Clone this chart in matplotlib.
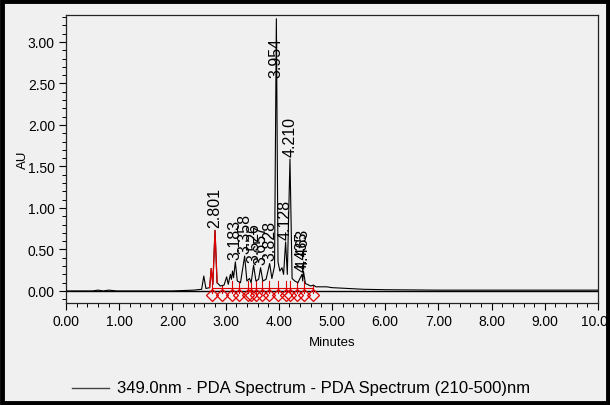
import matplotlib
matplotlib.use("Agg")
import matplotlib.pyplot as plt
from matplotlib.ticker import MultipleLocator, FormatStrFormatter
from matplotlib.lines import Line2D
from matplotlib.patches import Rectangle
import numpy as np

plt.rcParams['font.family'] = ['Liberation Sans', 'DejaVu Sans']

# traced chromatogram (minutes, AU)
times = [0.0, 0.5, 0.6, 0.7, 0.8, 0.95, 1.5, 2.0, 2.4, 2.55, 2.59, 2.63, 2.70,
         2.73, 2.76, 2.801, 2.84, 2.90, 2.97, 3.02, 3.05, 3.09, 3.11, 3.13, 3.15,
         3.183, 3.22, 3.28, 3.358, 3.40, 3.45, 3.48, 3.526, 3.57, 3.62, 3.657,
         3.70, 3.76, 3.828, 3.87, 3.92, 3.954, 3.985, 4.02, 4.06, 4.09, 4.128,
         4.16, 4.21, 4.25, 4.30, 4.36, 4.435, 4.45, 4.463, 4.50, 4.6, 4.65, 4.7,
         4.9, 5.0, 5.3, 5.6, 6.0, 7.0, 8.0, 9.0, 10.0]
au = [0.0, 0.0, 0.01, 0.0, 0.01, 0.0, 0.0, 0.0, 0.01, 0.02, 0.18, 0.03, 0.04,
      0.27, 0.08, 0.73, 0.10, 0.06, 0.07, 0.17, 0.08, 0.20, 0.14, 0.24, 0.16,
      0.35, 0.12, 0.10, 0.42, 0.12, 0.15, 0.10, 0.31, 0.12, 0.14, 0.28,
      0.12, 0.14, 0.33, 0.15, 0.30, 3.28, 0.35, 0.24, 0.28, 0.20, 0.59,
      0.20, 1.59, 0.15, 0.12, 0.10, 0.20, 0.12, 0.24, 0.09, 0.06, 0.07, 0.05,
      0.05, 0.04, 0.03, 0.02, 0.015, 0.01, 0.01, 0.01, 0.01]

# red (integrated) segment of the first peak
red_start, red_end = 2.70, 2.84

# labelled peaks
peak_times = [2.801, 3.183, 3.358, 3.526, 3.657, 3.828, 3.954, 4.128, 4.210, 4.435, 4.463]
peak_labels = ["2.801", "3.183", "3.358", "3.526", "3.657", "3.828", "3.954",
               "4.128", "4.210", "4.435", "4.463"]

# peak start / end markers (minutes)
marker_times = [2.74, 2.93, 3.12, 3.26, 3.43, 3.48, 3.58, 3.68, 3.82, 3.99,
                4.14, 4.21, 4.34, 4.47, 4.65]

legend_text = "349.0nm - PDA Spectrum - PDA Spectrum (210-500)nm"
bg = "#f0f0f0"
red = "#e00000"

fig = plt.figure(figsize=(6.10, 4.06), dpi=100, facecolor=bg)
ax = fig.add_axes([66/610, 1-304/406, (598-66)/610, (304-16)/406], facecolor=bg)

ax.axhline(0, color="black", lw=1.0, zorder=1)
ax.plot(times, au, color="black", lw=0.8, zorder=3)

rt = [t for t in times if red_start <= t <= red_end]
ra = [a for t, a in zip(times, au) if red_start <= t <= red_end]
ax.plot(rt, ra, color=red, lw=0.9, zorder=4)

mk_y = np.minimum(np.interp(marker_times, times, au), 0.12)
for t, y in zip(marker_times, mk_y):
    ax.plot([t, t], [-0.02, y], color=red, lw=0.8, zorder=2)
ax.plot([marker_times[0], marker_times[-1]], [0.04, 0.04], color=red, lw=0.8, zorder=2)
ax.plot(marker_times, [-0.05]*len(marker_times), linestyle="none", marker="D",
        markersize=6.5, markerfacecolor="none", markeredgecolor=red,
        markeredgewidth=0.9, zorder=5)

pk_y = np.interp(peak_times, times, au)
for t, h, lab in zip(peak_times, pk_y, peak_labels):
    yb = min(h + 0.04, 2.58)
    ax.text(t, yb, lab, rotation=90, ha="center", va="bottom", fontsize=11.5, zorder=6)

ax.set_xlim(0, 10)
ax.set_ylim(-0.145, 3.325)
ax.xaxis.set_major_locator(MultipleLocator(1))
ax.xaxis.set_minor_locator(MultipleLocator(0.2))
ax.yaxis.set_major_locator(MultipleLocator(0.5))
ax.yaxis.set_minor_locator(MultipleLocator(0.1))
ax.xaxis.set_major_formatter(FormatStrFormatter("%.2f"))
ax.yaxis.set_major_formatter(FormatStrFormatter("%.2f"))
ax.tick_params(axis="both", which="major", direction="out", length=5, width=0.8, labelsize=10, pad=3)
ax.tick_params(axis="both", which="minor", direction="out", length=3, width=0.7)
for s in ax.spines.values():
    s.set_linewidth(0.9)
    s.set_color("#222222")
ax.set_xlabel("Minutes", fontsize=9.5, labelpad=6)
ax.set_ylabel("AU", fontsize=9.5, labelpad=-1)

# legend line + text
fig.add_artist(Line2D([72/610, 109/610], [1-389/406, 1-389/406], color="#444444", lw=1.0))
fig.text(117/610, 1-389/406, legend_text, fontsize=12, va="center", ha="left")

# black frame
fig.add_artist(Rectangle((2/610, 2/406), 1-4/610, 1-4/406, transform=fig.transFigure,
                         fill=False, edgecolor="black", lw=3.5))

fig.savefig("out.png", dpi=100, facecolor=bg)
